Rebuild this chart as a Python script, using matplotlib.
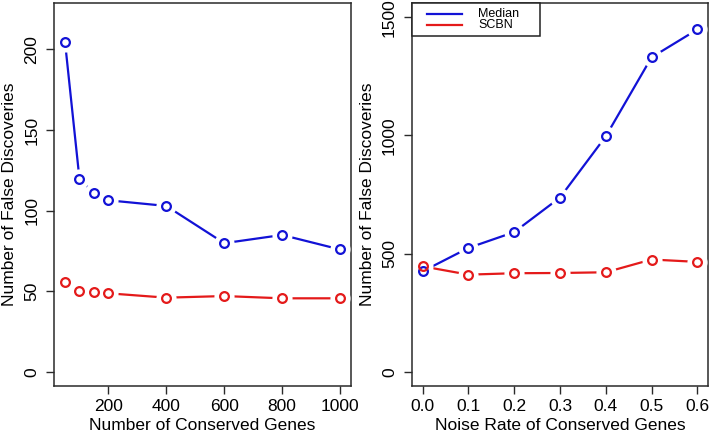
import matplotlib
matplotlib.use("Agg")
import matplotlib.pyplot as plt
from matplotlib.patches import Rectangle

plt.rcParams['font.family'] = ['Liberation Sans', 'DejaVu Sans']

# Left panel data
genes = [50, 100, 150, 200, 400, 600, 800, 1000]
left_median = [204.7, 119.6, 110.9, 106.4, 102.9, 79.8, 84.9, 75.9]
left_scbn = [55.5, 50.1, 49.7, 48.7, 46.0, 47.0, 45.6, 45.6]
left_xticks = [200, 400, 600, 800, 1000]
left_yticks = [0, 50, 100, 150, 200]

# Right panel data
noise = [0.0, 0.1, 0.2, 0.3, 0.4, 0.5, 0.6]
right_median = [425, 524, 591, 737, 996, 1330, 1448]
right_scbn = [446, 411, 417, 418, 421, 475, 465]
right_xticks = [0.0, 0.1, 0.2, 0.3, 0.4, 0.5, 0.6]
right_yticks = [0, 500, 1000, 1500]

series_names = ["Median", "SCBN"]
BLUE = "#1212D6"
RED = "#E41A1A"
colors = [BLUE, RED]

W, H = 709, 436
fig = plt.figure(figsize=(W / 100, H / 100), dpi=100)
ax1 = fig.add_axes([54 / W, 1 - 386 / H, (351 - 54) / W, 383 / H])
ax2 = fig.add_axes([411.7 / W, 1 - 386 / H, (708.3 - 411.7) / W, 383 / H])


def draw(ax, x, ys):
    for y, c in zip(ys, colors):
        ax.plot(x, y, color=c, lw=1.6, zorder=2, solid_capstyle='butt')
    for y in ys:
        ax.plot(x, y, ls='none', marker='o', ms=14.5, mfc='white', mec='none', zorder=3)
    for y, c in zip(ys, colors):
        ax.plot(x, y, ls='none', marker='o', ms=6.3, mfc='none', mec=c, mew=1.6, zorder=4)


draw(ax1, genes, [left_median, left_scbn])
draw(ax2, noise, [right_median, right_scbn])

ax1.set_xlim(12, 1038)
ax1.set_ylim(-8.8, 228.8)
ax1.set_xticks(left_xticks)
ax1.set_yticks(left_yticks)
ax1.set_xticklabels([str(v) for v in left_xticks])

ax2.set_xlim(-0.024, 0.624)
ax2.set_ylim(-60, 1560)
ax2.set_xticks(right_xticks)
ax2.set_yticks(right_yticks)
ax2.set_xticklabels([f"{v:.1f}" for v in right_xticks])

FS = 12.5
for ax in (ax1, ax2):
    for s in ax.spines.values():
        s.set_color('#2a2a2a')
        s.set_linewidth(1.1)
    ax.tick_params(axis='both', direction='out', length=6, width=1.0, color='#2a2a2a',
                   labelsize=FS, pad=3.5)
    ax.tick_params(axis='y', pad=4.5)
    for lbl in ax.get_yticklabels():
        lbl.set_rotation(90)
        lbl.set_va('center')
    ax.set_ylabel("Number of False Discoveries", fontsize=FS, labelpad=5)

ax1.set_xlabel("Number of Conserved Genes", fontsize=FS, labelpad=3)
ax2.set_xlabel("Noise Rate of Conserved Genes", fontsize=FS, labelpad=3)

# Legend box (R-style, top-left of right panel)
aw, ah = 296.6, 383.0
ax2.add_patch(Rectangle((0, 1 - 33 / ah), 128 / aw, 33 / ah, transform=ax2.transAxes,
                        facecolor='white', edgecolor='#222222', lw=1.1, zorder=6,
                        clip_on=False))
for i, (name, c) in enumerate(zip(series_names, colors)):
    yy = 1 - (11 + 11 * i) / ah
    ax2.plot([15.3 / aw, 50.3 / aw], [yy, yy], color=c, lw=1.6, transform=ax2.transAxes,
             zorder=7, clip_on=False)
    ax2.text(66.3 / aw, yy, name, transform=ax2.transAxes, fontsize=9, va='center',
             ha='left', zorder=7)

fig.savefig("out.png", dpi=100)
